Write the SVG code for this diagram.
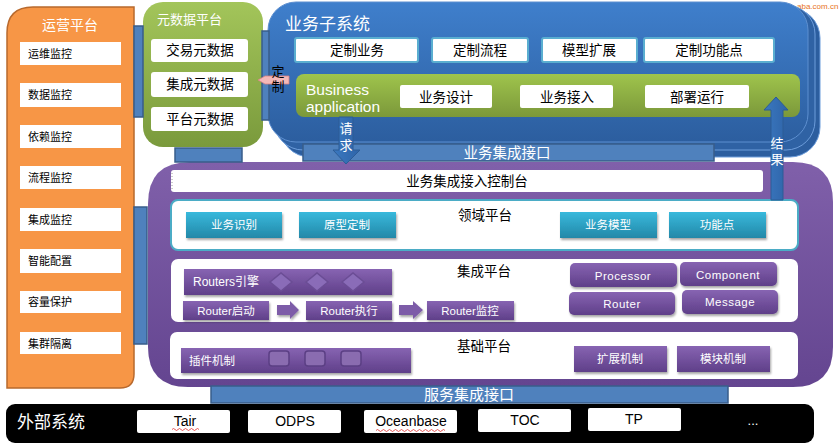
<svg xmlns="http://www.w3.org/2000/svg" width="839" height="447" viewBox="0 0 839 447">
<defs>
<style>
text{font-family:"Liberation Sans","Noto Sans CJK SC",sans-serif;}
.wb{fill:#ffffff;}
.t11{font-size:11px;fill:#000;}
.t13{font-size:13px;fill:#000;}
.c13{font-size:13.5px;fill:#000;text-anchor:middle;}
.w12{font-size:11.5px;fill:#fff;text-anchor:middle;}
.wl12{font-size:12px;fill:#fff;}
.bar{fill:#4f81bd;stroke:#385d8a;stroke-width:1.5;}
.pb{fill:url(#gPurple);filter:url(#sh);}
.cb{fill:url(#gCyan);filter:url(#sh);}
.dia{fill:#8a6cb8;stroke:#6b4d95;stroke-width:1.5;}
.sq{fill:#8a6cb0;stroke:#5b3f84;stroke-width:1.5;}
.tb{fill:#fff;stroke:#5aaed0;stroke-width:2;}
.ext{fill:#fff;}
.et{font-size:14px;fill:#000;text-anchor:middle;}
.arr{fill:url(#gArr);stroke:#2c5c96;stroke-width:1;}
.parr{fill:#7d5ca8;filter:url(#sh);}
</style>
<linearGradient id="gGreen" x1="0" y1="0" x2="0" y2="1"><stop offset="0" stop-color="#a3c55a"/><stop offset="1" stop-color="#7a9a3c"/></linearGradient>
<linearGradient id="gGreen2" x1="0" y1="0" x2="0" y2="1"><stop offset="0" stop-color="#9fc44c"/><stop offset="1" stop-color="#7b983a"/></linearGradient>
<linearGradient id="gBlue" x1="0" y1="0" x2="0" y2="1"><stop offset="0" stop-color="#3f7fcc"/><stop offset="1" stop-color="#2c5e9f"/></linearGradient>
<linearGradient id="gPanel" x1="0" y1="0" x2="0" y2="1"><stop offset="0" stop-color="#8060aa"/><stop offset="1" stop-color="#644590"/></linearGradient>
<linearGradient id="gPurple" x1="0" y1="0" x2="0" y2="1"><stop offset="0" stop-color="#8764b2"/><stop offset="1" stop-color="#5f3f89"/></linearGradient>
<linearGradient id="gCyan" x1="0" y1="0" x2="0" y2="1"><stop offset="0" stop-color="#38b9dc"/><stop offset="1" stop-color="#2388a8"/></linearGradient>
<linearGradient id="gArr" x1="0" y1="0" x2="1" y2="0"><stop offset="0" stop-color="#3a78c0"/><stop offset="1" stop-color="#2f64a8"/></linearGradient>
<filter id="sh" x="-10%" y="-20%" width="125%" height="160%"><feDropShadow dx="1" dy="2" stdDeviation="1" flood-color="#000" flood-opacity="0.35"/></filter>
</defs>
<rect x="0" y="0" width="839" height="447" fill="#ffffff"/>
<text x="797" y="9" font-size="8" fill="#e8731c">aba.com.cn</text>

<g id="external">
<rect x="6" y="404" width="808" height="39" rx="9" fill="#000"/>
<text x="17" y="428" font-size="17px" fill="#fff">外部系统</text>
<rect class="ext" x="137" y="410" width="93" height="23" rx="2"/>
<text class="et" x="185" y="426">Tair</text>
<path d="M172 429.5 q1.5 -2 3 0 t3 0 t3 0 t3 0 t3 0 t3 0 t3 0 t3 0 t3 0" fill="none" stroke="#e03030" stroke-width="0.8"/>
<rect class="ext" x="248" y="410" width="93" height="23" rx="2"/>
<text class="et" x="295" y="426">ODPS</text>
<rect class="ext" x="364" y="410" width="93" height="23" rx="2"/>
<text class="et" x="411" y="426">Oceanbase</text>
<path d="M376 430.5 q1.5 -2 3 0 t3 0 t3 0 t3 0 t3 0 t3 0 t3 0 t3 0 t3 0 t3 0 t3 0 t3 0 t3 0 t3 0 t3 0 t3 0 t3 0 t3 0 t3 0 t3 0 t3 0 t3 0 t3 0" fill="none" stroke="#e03030" stroke-width="0.8"/>
<rect class="ext" x="478" y="409" width="93" height="23" rx="2"/>
<text class="et" x="525" y="425">TOC</text>
<rect class="ext" x="588" y="408" width="93" height="23" rx="2"/>
<text class="et" x="634" y="424">TP</text>
<text x="753" y="425" font-size="13px" fill="#fff" text-anchor="middle">...</text>
</g>

<g id="ops-platform">
<path d="M7 33 Q7 7 33 7 L134 7 L134 374 Q134 388 120 388 L7 388 Z" fill="#f79646" stroke="#b8692d" stroke-width="1.5"/>
<text x="70" y="30" font-size="14px" fill="#fff" text-anchor="middle">运营平台</text>
<rect class="wb" x="20" y="42" width="101" height="23"/><text class="t11" x="28" y="58">运维监控</text>
<rect class="wb" x="20" y="83" width="101" height="24"/><text class="t11" x="28" y="99">数据监控</text>
<rect class="wb" x="20" y="125" width="101" height="23"/><text class="t11" x="28" y="141">依赖监控</text>
<rect class="wb" x="20" y="166" width="101" height="23"/><text class="t11" x="28" y="182">流程监控</text>
<rect class="wb" x="20" y="208" width="101" height="23"/><text class="t11" x="28" y="224">集成监控</text>
<rect class="wb" x="20" y="249" width="101" height="24"/><text class="t11" x="28" y="265">智能配置</text>
<rect class="wb" x="20" y="291" width="101" height="22"/><text class="t11" x="28" y="306">容量保护</text>
<rect class="wb" x="20" y="332" width="101" height="22"/><text class="t11" x="28" y="348">集群隔离</text>
</g>

<g id="meta-platform">
<rect x="143" y="2" width="120" height="145" rx="20" fill="url(#gGreen)"/>
<text x="157" y="24" font-size="13px" fill="#fff">元数据平台</text>
<rect class="wb" x="151" y="39" width="97" height="23" rx="3"/><text class="c13" x="200" y="55">交易元数据</text>
<rect class="wb" x="151" y="72" width="97" height="25" rx="3"/><text class="c13" x="200" y="89">集成元数据</text>
<rect class="wb" x="151" y="107" width="97" height="24" rx="3"/><text class="c13" x="200" y="124">平台元数据</text>
</g>

<g id="biz-subsystem">
<rect x="280" y="8" width="540" height="149" rx="30" fill="#2c5e9f" stroke="#6d9ddb" stroke-width="1"/>
<rect x="274" y="5" width="541" height="145" rx="29" fill="#2f62a4" stroke="#6d9ddb" stroke-width="1"/>
<rect x="268" y="2" width="540" height="140" rx="28" fill="url(#gBlue)" stroke="#5d8fd0" stroke-width="1"/>
<text x="285" y="30" font-size="17px" fill="#fff">业务子系统</text>
<rect class="tb" x="295" y="38" width="123" height="24" rx="2"/><text class="c13" x="357" y="55">定制业务</text>
<rect class="tb" x="432" y="38" width="96" height="24" rx="2"/><text class="c13" x="480" y="55">定制流程</text>
<rect class="tb" x="542" y="38" width="95" height="24" rx="2"/><text class="c13" x="589" y="55">模型扩展</text>
<rect class="tb" x="644" y="38" width="130" height="24" rx="2"/><text class="c13" x="709" y="55">定制功能点</text>
<rect x="296" y="74" width="504" height="43" rx="8" fill="url(#gGreen2)"/>
<text x="306" y="95" font-size="15.5px" fill="#fff">Business</text>
<text x="306" y="112" font-size="15.5px" fill="#fff">application</text>
<rect class="wb" x="400" y="85" width="92" height="23" rx="2"/><text class="c13" x="446" y="102">业务设计</text>
<rect class="wb" x="520" y="85" width="93" height="23" rx="2"/><text class="c13" x="567" y="102">业务接入</text>
<rect class="wb" x="645" y="85" width="104" height="23" rx="2"/><text class="c13" x="697" y="102">部署运行</text>
</g>

<g id="integration-platform">
<path d="M190 162 L793 162 Q833 162 833 202 L833 347 Q833 387 793 387 L188 387 Q148 387 148 347 L148 204 Q148 162 190 162 Z" fill="url(#gPanel)"/>
<rect class="wb" x="171" y="170" width="592" height="22" rx="3"/>
<line x1="172" y1="173" x2="172" y2="189" stroke="#999" stroke-width="1" stroke-dasharray="1,2"/>
<text class="c13" x="467" y="186">业务集成接入控制台</text>
<g id="domain-platform">
<rect x="171" y="200" width="627" height="50" rx="7" fill="#fff" stroke="#4bacc6" stroke-width="2"/>
<text class="c13" x="485" y="220">领域平台</text>
<rect class="cb" x="186" y="212" width="96" height="26"/><text class="w12" x="234" y="229">业务识别</text>
<rect class="cb" x="299" y="212" width="97" height="26"/><text class="w12" x="347" y="229">原型定制</text>
<rect class="cb" x="560" y="212" width="97" height="26"/><text class="w12" x="608" y="229">业务模型</text>
<rect class="cb" x="669" y="212" width="97" height="26"/><text class="w12" x="717" y="229">功能点</text>
</g>
<g id="integ-platform">
<rect x="171" y="259" width="627" height="63" rx="7" fill="#fff"/>
<text class="c13" x="484" y="276">集成平台</text>
<rect class="pb" x="184" y="269" width="208" height="26"/>
<text class="wl12" x="193" y="286">Routers引擎</text>
<polygon class="dia" points="270,282 281,273 292,282 281,291"/>
<polygon class="dia" points="306,282 317,273 328,282 317,291"/>
<polygon class="dia" points="342,282 353,273 364,282 353,291"/>
<rect class="pb" x="183" y="301" width="86" height="19"/><text class="w12" x="226" y="315">Router启动</text>
<rect class="pb" x="306" y="301" width="86" height="19"/><text class="w12" x="349" y="315">Router执行</text>
<rect class="pb" x="427" y="301" width="87" height="19"/><text class="w12" x="470" y="315">Router监控</text>
<rect class="pb" x="570" y="263" width="107" height="24" rx="5"/><text class="w12" x="623" y="280" letter-spacing="0.5">Processor</text>
<rect class="pb" x="680" y="262" width="97" height="24" rx="5"/><text class="w12" x="728" y="279" letter-spacing="0.5">Component</text>
<rect class="pb" x="569" y="292" width="106" height="23" rx="5"/><text class="w12" x="622" y="308" letter-spacing="0.5">Router</text>
<rect class="pb" x="682" y="290" width="96" height="24" rx="5"/><text class="w12" x="730" y="306" letter-spacing="0.5">Message</text>
</g>
<g id="base-platform">
<rect x="170" y="332" width="628" height="47" rx="7" fill="#fff"/>
<text class="c13" x="484" y="351">基础平台</text>
<rect class="pb" x="181" y="348" width="230" height="25"/>
<text class="wl12" x="189" y="365" style="font-size:11.5px">插件机制</text>
<rect class="sq" x="269" y="351" width="20" height="15" rx="3"/>
<rect class="sq" x="305" y="351" width="20" height="15" rx="3"/>
<rect class="sq" x="341" y="351" width="20" height="15" rx="3"/>
<rect class="pb" x="574" y="346" width="93" height="26"/><text class="w12" x="620" y="363">扩展机制</text>
<rect class="pb" x="677" y="346" width="93" height="26"/><text class="w12" x="723" y="363">模块机制</text>
</g>
</g>

<g id="biz-interface">
<rect class="bar" x="303" y="144" width="411" height="17"/>
<text x="507" y="158" font-size="14.5px" fill="#fff" text-anchor="middle">业务集成接口</text>
</g>
<g id="service-interface">
<rect class="bar" x="211" y="386" width="517" height="17"/>
<text x="469" y="400" font-size="15px" fill="#fff" text-anchor="middle">服务集成接口</text>
</g>

<g id="connectors">
<rect class="bar" x="134" y="26" width="9" height="91"/>
<rect class="bar" x="134" y="207" width="13" height="137"/>
<rect class="bar" x="175" y="148" width="67" height="14"/>
<rect class="bar" x="262" y="31" width="7" height="89"/>
<polygon points="258,80 265,76 289,76 289,84 265,84" fill="#f4b8b8" stroke="#d98080" stroke-width="0.8"/>
<text x="278" y="76" font-size="13px" fill="#000" text-anchor="middle">定</text>
<text x="278" y="91" font-size="13px" fill="#000" text-anchor="middle">制</text>
<polygon class="arr" points="339,117 353,117 353,150 360,150 346,164 333,150 339,150"/>
<text x="346" y="133" font-size="13px" fill="#fff" text-anchor="middle">请</text>
<text x="346" y="150" font-size="13px" fill="#fff" text-anchor="middle">求</text>
<polygon class="arr" points="771,200 783,200 783,110 788,110 776,97 764,110 771,110"/>
<text x="777" y="148" font-size="13px" fill="#fff" text-anchor="middle">结</text>
<text x="777" y="164" font-size="13px" fill="#fff" text-anchor="middle">果</text>
<polygon class="parr" points="277,305 290,305 290,301 299,310 290,319 290,315 277,315"/>
<polygon class="parr" points="399,305 413,305 413,301 423,310 413,319 413,315 399,315"/>
</g>
</svg>
